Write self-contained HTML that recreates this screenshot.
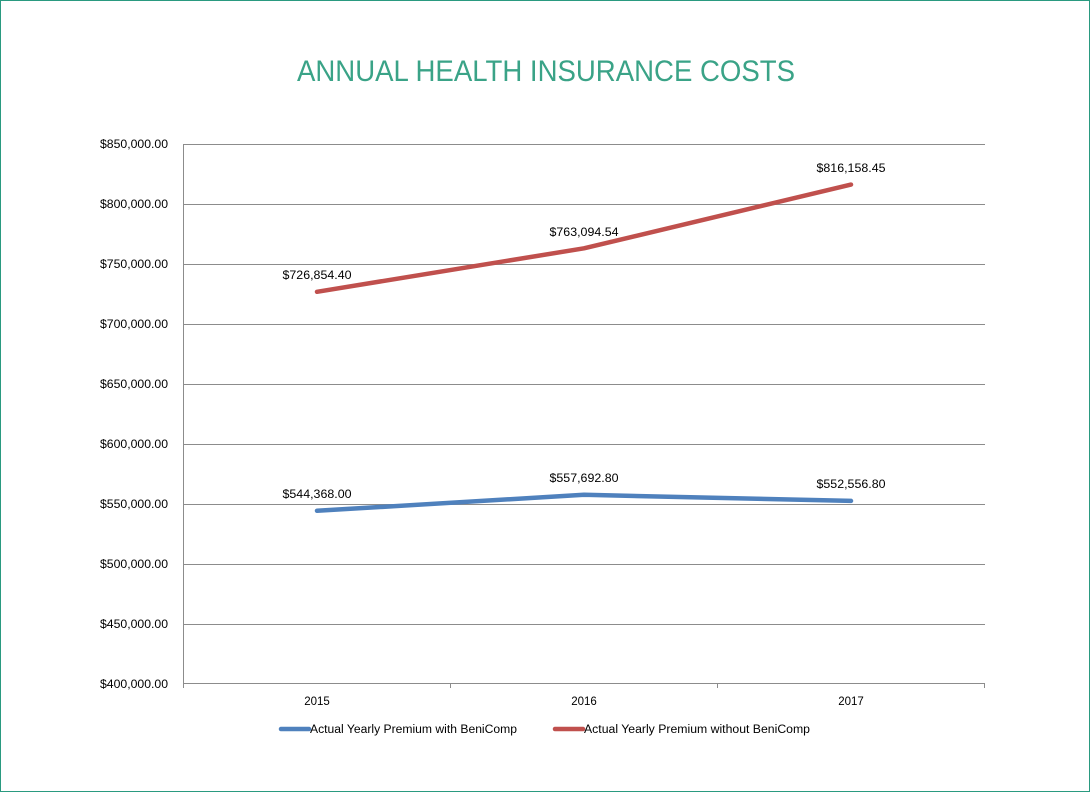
<!DOCTYPE html>
<html><head><meta charset="utf-8"><style>
html,body{margin:0;padding:0;background:#fff}
svg{display:block}
text{font-family:"Liberation Sans",sans-serif}
</style></head><body>
<svg width="1090" height="792" viewBox="0 0 1090 792" xmlns="http://www.w3.org/2000/svg">
<rect x="0.5" y="0.5" width="1089" height="791" fill="#fff" stroke="#2a9a80" stroke-width="1"/>
<text x="546" y="81" text-anchor="middle" font-size="30" fill="#3aa387" textLength="498" lengthAdjust="spacingAndGlyphs">ANNUAL HEALTH INSURANCE COSTS</text>
<g stroke="#8c8c8c" stroke-width="1">
<line x1="183" y1="144.5" x2="985" y2="144.5"/>
<line x1="183" y1="204.5" x2="985" y2="204.5"/>
<line x1="183" y1="264.5" x2="985" y2="264.5"/>
<line x1="183" y1="324.5" x2="985" y2="324.5"/>
<line x1="183" y1="384.5" x2="985" y2="384.5"/>
<line x1="183" y1="444.5" x2="985" y2="444.5"/>
<line x1="183" y1="504.5" x2="985" y2="504.5"/>
<line x1="183" y1="564.5" x2="985" y2="564.5"/>
<line x1="183" y1="624.5" x2="985" y2="624.5"/>
<line x1="183" y1="683.5" x2="985" y2="683.5"/>
<line x1="183.5" y1="144" x2="183.5" y2="688"/>
<line x1="450.5" y1="683" x2="450.5" y2="688"/>
<line x1="717.5" y1="683" x2="717.5" y2="688"/>
<line x1="984.5" y1="683" x2="984.5" y2="688"/>
</g>
<g font-size="11.5" fill="#000" text-anchor="end">
<text x="168" y="148" textLength="68" lengthAdjust="spacingAndGlyphs">$850,000.00</text>
<text x="168" y="208" textLength="68" lengthAdjust="spacingAndGlyphs">$800,000.00</text>
<text x="168" y="268" textLength="68" lengthAdjust="spacingAndGlyphs">$750,000.00</text>
<text x="168" y="328" textLength="68" lengthAdjust="spacingAndGlyphs">$700,000.00</text>
<text x="168" y="388" textLength="68" lengthAdjust="spacingAndGlyphs">$650,000.00</text>
<text x="168" y="448" textLength="68" lengthAdjust="spacingAndGlyphs">$600,000.00</text>
<text x="168" y="508" textLength="68" lengthAdjust="spacingAndGlyphs">$550,000.00</text>
<text x="168" y="568" textLength="68" lengthAdjust="spacingAndGlyphs">$500,000.00</text>
<text x="168" y="628" textLength="68" lengthAdjust="spacingAndGlyphs">$450,000.00</text>
<text x="168" y="688" textLength="68" lengthAdjust="spacingAndGlyphs">$400,000.00</text>
</g>
<g font-size="11.5" fill="#000" text-anchor="middle">
<text x="317" y="705">2015</text>
<text x="584" y="705">2016</text>
<text x="851" y="705">2017</text>
</g>
<polyline points="317,291.8 584,248.3 851,184.6" fill="none" stroke="#c0504d" stroke-width="4.5" stroke-linecap="round" stroke-linejoin="round"/>
<polyline points="317,510.8 584,494.8 851,500.9" fill="none" stroke="#4f81bd" stroke-width="4.5" stroke-linecap="round" stroke-linejoin="round"/>
<g font-size="11.5" fill="#000" text-anchor="middle">
<text x="317" y="279" textLength="69" lengthAdjust="spacingAndGlyphs">$726,854.40</text>
<text x="584" y="236" textLength="69" lengthAdjust="spacingAndGlyphs">$763,094.54</text>
<text x="851" y="172" textLength="69" lengthAdjust="spacingAndGlyphs">$816,158.45</text>
<text x="317" y="498" textLength="69" lengthAdjust="spacingAndGlyphs">$544,368.00</text>
<text x="584" y="482" textLength="69" lengthAdjust="spacingAndGlyphs">$557,692.80</text>
<text x="851" y="488" textLength="69" lengthAdjust="spacingAndGlyphs">$552,556.80</text>
</g>
<line x1="281" y1="729" x2="309" y2="729" stroke="#4f81bd" stroke-width="4.5" stroke-linecap="round"/>
<text x="310" y="733" font-size="11.5" fill="#000" textLength="207" lengthAdjust="spacingAndGlyphs">Actual Yearly Premium with BeniComp</text>
<line x1="555" y1="729" x2="583" y2="729" stroke="#c0504d" stroke-width="4.5" stroke-linecap="round"/>
<text x="584" y="733" font-size="11.5" fill="#000" textLength="226" lengthAdjust="spacingAndGlyphs">Actual Yearly Premium without BeniComp</text>
</svg>
</body></html>
